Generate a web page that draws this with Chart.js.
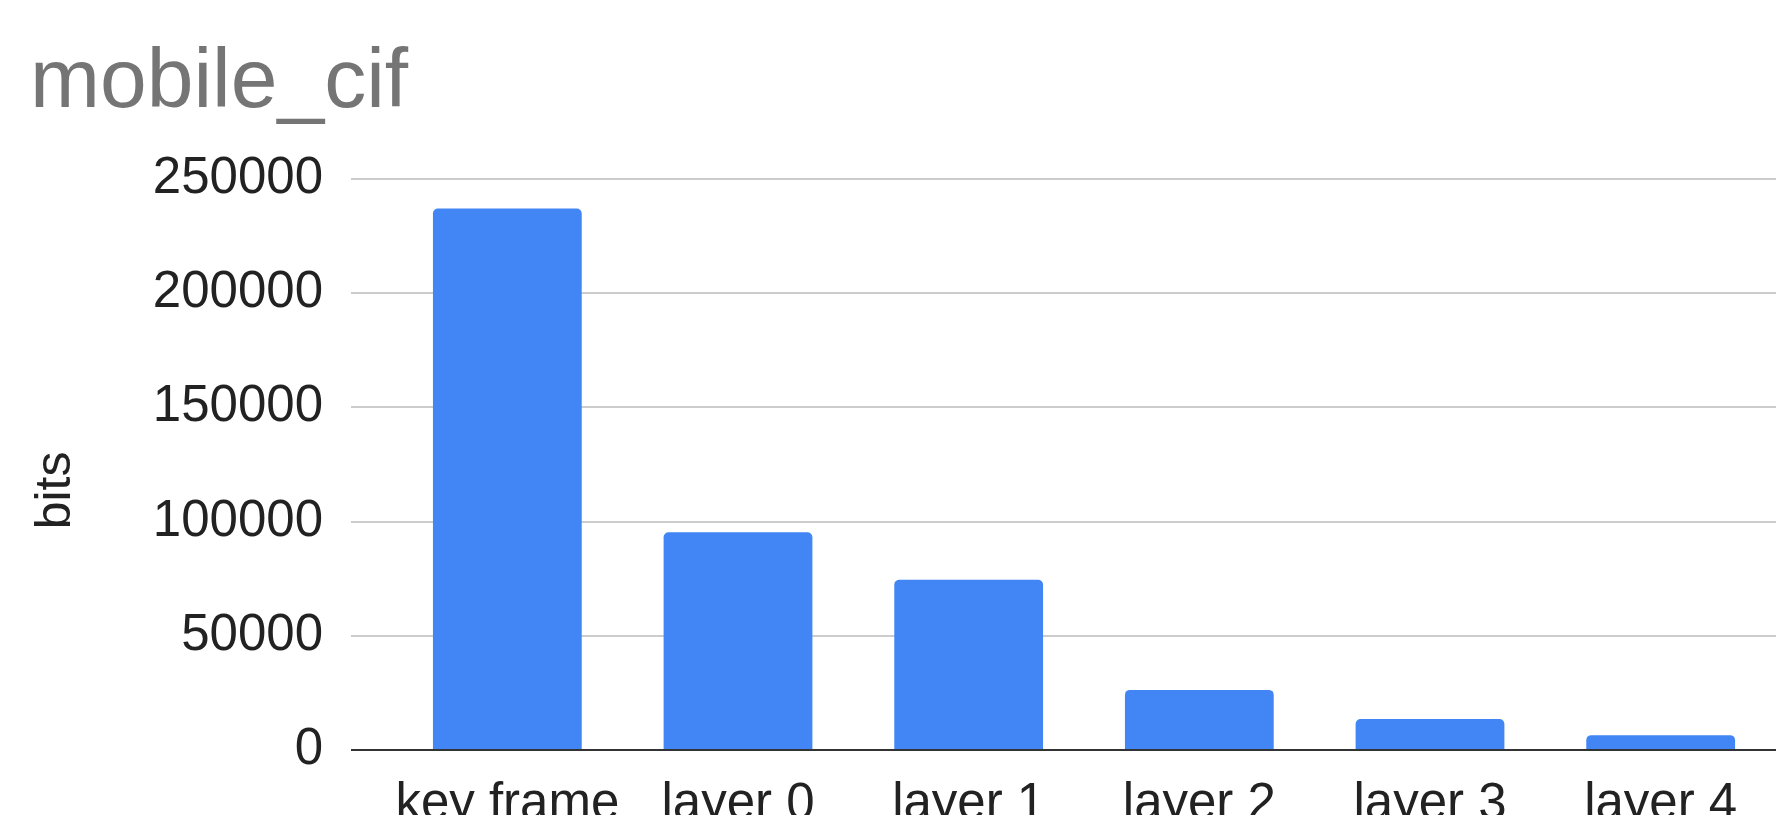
<!DOCTYPE html>
<html>
<head>
<meta charset="utf-8">
<title>mobile_cif</title>
<script src="https://cdn.jsdelivr.net/npm/chart.js@4/dist/chart.umd.min.js"></script>
<style>
  html, body { margin: 0; padding: 0; background: #ffffff; overflow: hidden; }
  #wrap { width: 1776px; height: 815px; position: relative; }
</style>
</head>
<body>
<div id="wrap"><canvas id="chart"></canvas></div>
<script>
// Bits spent per frame type
const categories = ['key frame', 'layer 0', 'layer 1', 'layer 2', 'layer 3', 'layer 4'];
const bits = [237000, 95300, 74500, 26300, 13600, 6500];
const yTickValues = [0, 50000, 100000, 150000, 200000, 250000];
const chartTitle = 'mobile_cif';
const yAxisTitle = 'bits';

const FONT = "'Liberation Sans', Arial, Helvetica, sans-serif";
const GRID = '#cccccc';
const AXIS = '#333333';

// Rotated "bits" caption beside the value axis
const yCaption = {
  id: 'yCaption',
  afterDraw(chart) {
    const { ctx, chartArea, scales } = chart;
    ctx.save();
    ctx.translate(scales.y.left + 40, (chartArea.top + chartArea.bottom) / 2 + 26);
    ctx.rotate(-Math.PI / 2);
    ctx.font = '50px ' + FONT;
    ctx.fillStyle = '#222222';
    ctx.textAlign = 'center';
    ctx.textBaseline = 'alphabetic';
    ctx.fillText(yAxisTitle, 0, 0);
    ctx.restore();
  }
};

const lineColor = (c) => (c.tick && c.tick.value === 0 ? AXIS : GRID);

new Chart(document.getElementById('chart'), {
  type: 'bar',
  data: {
    labels: categories,
    datasets: [{
      label: yAxisTitle,
      data: bits,
      backgroundColor: '#4285f4',
      borderWidth: 0,
      borderRadius: 5,
      categoryPercentage: 1,
      barPercentage: 0.645
    }]
  },
  options: {
    responsive: true,
    maintainAspectRatio: false,
    animation: false,
    layout: { padding: { left: 30, right: -2, top: 0, bottom: 0 } },
    plugins: {
      legend: { display: false },
      tooltip: { enabled: false },
      title: {
        display: true,
        text: chartTitle,
        align: 'start',
        color: '#757575',
        font: { family: FONT, size: 84, weight: 'normal' },
        padding: { top: 33, bottom: 45 }
      }
    },
    scales: {
      x: {
        grid: { display: false, drawTicks: false },
        border: { display: false },
        ticks: {
          color: '#222222',
          font: { family: FONT, size: 51 },
          padding: 24,
          maxRotation: 0,
          autoSkip: false
        },
        afterFit(s) { s.height = 65; }
      },
      y: {
        min: 0,
        max: 250000,
        border: { display: false },
        grid: {
          color: lineColor,
          tickColor: lineColor,
          lineWidth: 2,
          drawTicks: true,
          tickLength: 41
        },
        ticks: {
          color: '#222222',
          font: { family: FONT, size: 51 },
          padding: 28,
          callback: (v) => String(v)
        },
        afterBuildTicks(s) { s.ticks = yTickValues.map((v) => ({ value: v })); },
        afterFit(s) { s.width = 362; }
      }
    }
  },
  plugins: [yCaption]
});
</script>
</body>
</html>
